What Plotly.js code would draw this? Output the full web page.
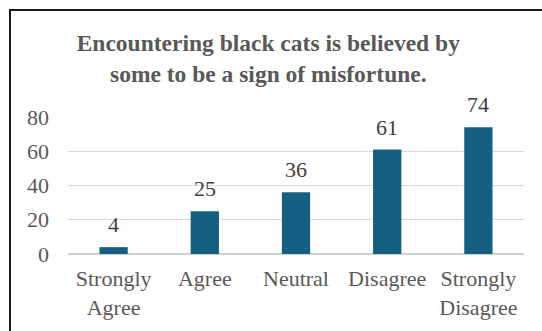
<!DOCTYPE html>
<html>
<head>
<meta charset="utf-8">
<script src="https://cdn.plot.ly/plotly-3.0.1.min.js"></script>
<style>
html,body{margin:0;padding:0;background:#fff;}
#wrap{position:relative;width:542px;height:331px;overflow:hidden;}
#chart{position:absolute;left:0;top:0;width:542px;height:331px;}
#frame{position:absolute;left:9px;top:9px;width:600px;height:400px;border-left:2px solid #1a1a1a;border-top:2px solid #1a1a1a;pointer-events:none;}
</style>
</head>
<body>
<div id="wrap"><div id="chart"></div><div id="frame"></div></div>
<script>
const categories = ["Strongly<br>Agree", "Agree", "Neutral", "Disagree", "Strongly<br>Disagree"];
const values = [4, 25, 36, 61, 74];
const yTicks = [0, 20, 40, 60, 80];

const serif = "Liberation Serif, Times New Roman, serif";
const labels = categories.map((c, i) => ({
  x: c, y: values[i], xref: "x", yref: "y",
  text: String(values[i]), showarrow: false,
  yanchor: "bottom", yshift: 8,
  font: {family: serif, size: 22, color: "#404040"}
}));

Plotly.newPlot("chart", [{
  type: "bar",
  x: categories,
  y: values,
  marker: {color: "#156082"},
  width: 0.31,
  hoverinfo: "none"
}], {
  width: 542, height: 331,
  margin: {l: 68, r: 18, t: 117, b: 77},
  paper_bgcolor: "#fff", plot_bgcolor: "#fff",
  showlegend: false,
  annotations: labels,
  title: {
    text: "<b>Encountering black cats is believed by<br>some to be a sign of misfortune.</b>",
    font: {family: serif, size: 23.5, color: "#595959"},
    x: 0.495, xanchor: "center",
    y: 0.846, yanchor: "top", yref: "container"
  },
  xaxis: {
    tickfont: {family: serif, size: 22, color: "#595959"},
    showgrid: false, showline: false, ticks: "", zeroline: false,
    ticklabelstandoff: 9
  },
  yaxis: {
    range: [0, 80], tickvals: yTicks, ticktext: yTicks.map(String),
    tickfont: {family: serif, size: 22, color: "#595959"},
    showgrid: true, gridcolor: "#d9d9d9", gridwidth: 1.3,
    zeroline: true, zerolinecolor: "#d0d0d0", zerolinewidth: 1.5,
    showline: false, ticks: "", ticklabelstandoff: 18
  }
}, {staticPlot: true, displayModeBar: false});
</script>
</body>
</html>
